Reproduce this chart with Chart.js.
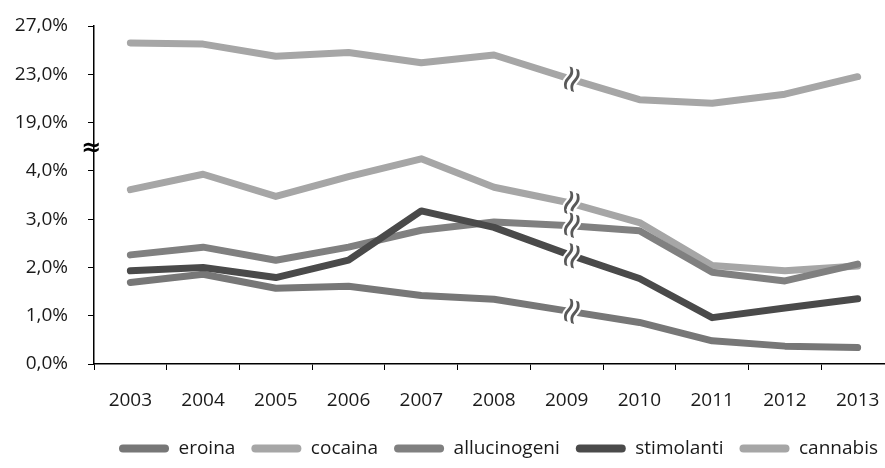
<!DOCTYPE html>
<html>
<head>
<meta charset="utf-8">
<script src="https://cdn.jsdelivr.net/npm/chart.js@4"></script>
<style>
  html, body { margin: 0; padding: 0; background: #fff; overflow: hidden; }
  /* plot runs slightly past the right edge of the 885px picture, as in the original */
  #wrap { width: 894px; height: 468px; }
</style>
</head>
<body>
<div id="wrap"><canvas id="chartDroghe"></canvas></div>
<script>
const anni = ['2003', '2004', '2005', '2006', '2007', '2008', '2009', '2010', '2011', '2012', '2013'];

// values in %
const eroina      = [1.69, 1.86, 1.57, 1.61, 1.42, 1.34, 1.10, 0.86, 0.48, 0.37, 0.34];
const cocaina     = [3.61, 3.93, 3.47, 3.88, 4.25, 3.66, 3.35, 2.93, 2.04, 1.93, 2.03];
const allucinogeni= [2.26, 2.42, 2.15, 2.42, 2.77, 2.94, 2.87, 2.76, 1.90, 1.72, 2.07];
const stimolanti  = [1.93, 2.00, 1.79, 2.15, 3.17, 2.83, 2.28, 1.77, 0.96, 1.16, 1.35];
const cannabis    = [25.6, 25.5, 24.5, 24.8, 23.95, 24.6, 22.7, 20.9, 20.6, 21.35, 22.8];

// broken axis: 0..4 as is, then 19 -> 5, 23 -> 6, 27 -> 7
const yTicks = [0, 1, 2, 3, 4, 19, 23, 27];

function toAxis(v) {
  return v <= 4.5 ? v : 5 + (v - 19) / 4;
}
function fromAxis(a) {
  return a <= 4.5 ? a : 19 + (a - 5) * 4;
}
function pct(v) {
  return v.toFixed(1).replace('.', ',') + '%';
}

const FONT = '"Open Sans", sans-serif';
const TXT = '#1a1a1a';

function serie(label, data, color, order) {
  return {
    label: label,
    data: data.map(toAxis),
    borderColor: color,
    backgroundColor: color,
    borderWidth: 7,
    borderCapStyle: 'round',
    borderJoinStyle: 'round',
    pointRadius: 0,
    tension: 0,
    order: order,
  };
}

// ≈ on the y axis and on each line at 2009
const breakMarks = {
  id: 'breakMarks',
  afterDatasetsDraw(chart) {
    const ctx = chart.ctx;
    ctx.save();
    ctx.font = '36px "DejaVu Sans"';
    ctx.textAlign = 'center';
    ctx.textBaseline = 'middle';
    chart.data.datasets.forEach((ds, i) => {
      const pts = chart.getDatasetMeta(i).data;
      const a = pts[6], b = pts[7];
      const x = a.x + 7;
      const y = a.y + (b.y - a.y) * (7 / (b.x - a.x));
      ctx.save();
      ctx.translate(x, y);
      ctx.rotate(-70 * Math.PI / 180);
      ctx.lineWidth = 4;
      ctx.strokeStyle = '#ffffff';
      ctx.strokeText('\u2248', 0, 0);
      ctx.fillStyle = '#595959';
      ctx.fillText('\u2248', 0, 0);
      ctx.restore();
    });
    ctx.restore();
  },
  afterDraw(chart) {
    const ctx = chart.ctx;
    const ys = chart.scales.y;
    ctx.save();
    ctx.font = 'bold 24px "DejaVu Sans"';
    ctx.textAlign = 'center';
    ctx.textBaseline = 'middle';
    ctx.fillStyle = '#000';
    ctx.fillText('\u2248', ys.right - 3, ys.getPixelForValue(4.45));
    ctx.restore();
  }
};

new Chart(
  document.getElementById('chartDroghe'),
  {
    type: 'line',
    data: {
      labels: anni,
      datasets: [
        serie('eroina', eroina, '#777777', 5),
        serie('cocaina', cocaina, '#a6a6a6', 4),
        serie('allucinogeni', allucinogeni, '#808080', 3),
        serie('stimolanti', stimolanti, '#4a4a4a', 2),
        serie('cannabis', cannabis, '#a6a6a6', 1),
      ]
    },
    plugins: [breakMarks],
    options: {
      responsive: true,
      maintainAspectRatio: false,
      animation: false,
      layout: { padding: { top: 26, right: 0, bottom: 0, left: 0 } },
      scales: {
        x: {
          offset: true,
          grid: { offset: true, drawOnChartArea: false, color: '#000', tickLength: 6 },
          border: { color: '#000', width: 1.5 },
          ticks: { color: TXT, font: { family: FONT, size: 19 }, padding: 19, maxRotation: 0 },
          afterFit(s) { s.height = 59; s.paddingLeft = 0; s.paddingRight = 0; }
        },
        y: {
          min: 0,
          max: 7,
          afterBuildTicks(s) { s.ticks = yTicks.map(v => ({ value: toAxis(v) })); },
          grid: { drawOnChartArea: false, color: '#000', tickLength: 6 },
          border: { color: '#000', width: 1.5 },
          ticks: {
            color: TXT,
            font: { family: FONT, size: 19 },
            padding: 20,
            callback: v => pct(fromAxis(v))
          },
          afterFit(s) { s.width = 94; s.paddingTop = 0; s.paddingBottom = 0; }
        }
      },
      plugins: {
        legend: {
          display: true,
          position: 'bottom',
          align: 'end',
          labels: {
            color: TXT,
            font: { family: FONT, size: 19 },
            boxWidth: 50,
            boxHeight: 8,
            padding: 16,
            useBorderRadius: true,
            borderRadius: 4,
            sort: (a, b) => a.datasetIndex - b.datasetIndex,
            generateLabels(chart) {
              const items = Chart.defaults.plugins.legend.labels.generateLabels(chart);
              items.forEach(it => { it.lineWidth = 0; });
              return items;
            }
          }
        },
        tooltip: { enabled: false }
      }
    }
  }
);
</script>
</body>
</html>
